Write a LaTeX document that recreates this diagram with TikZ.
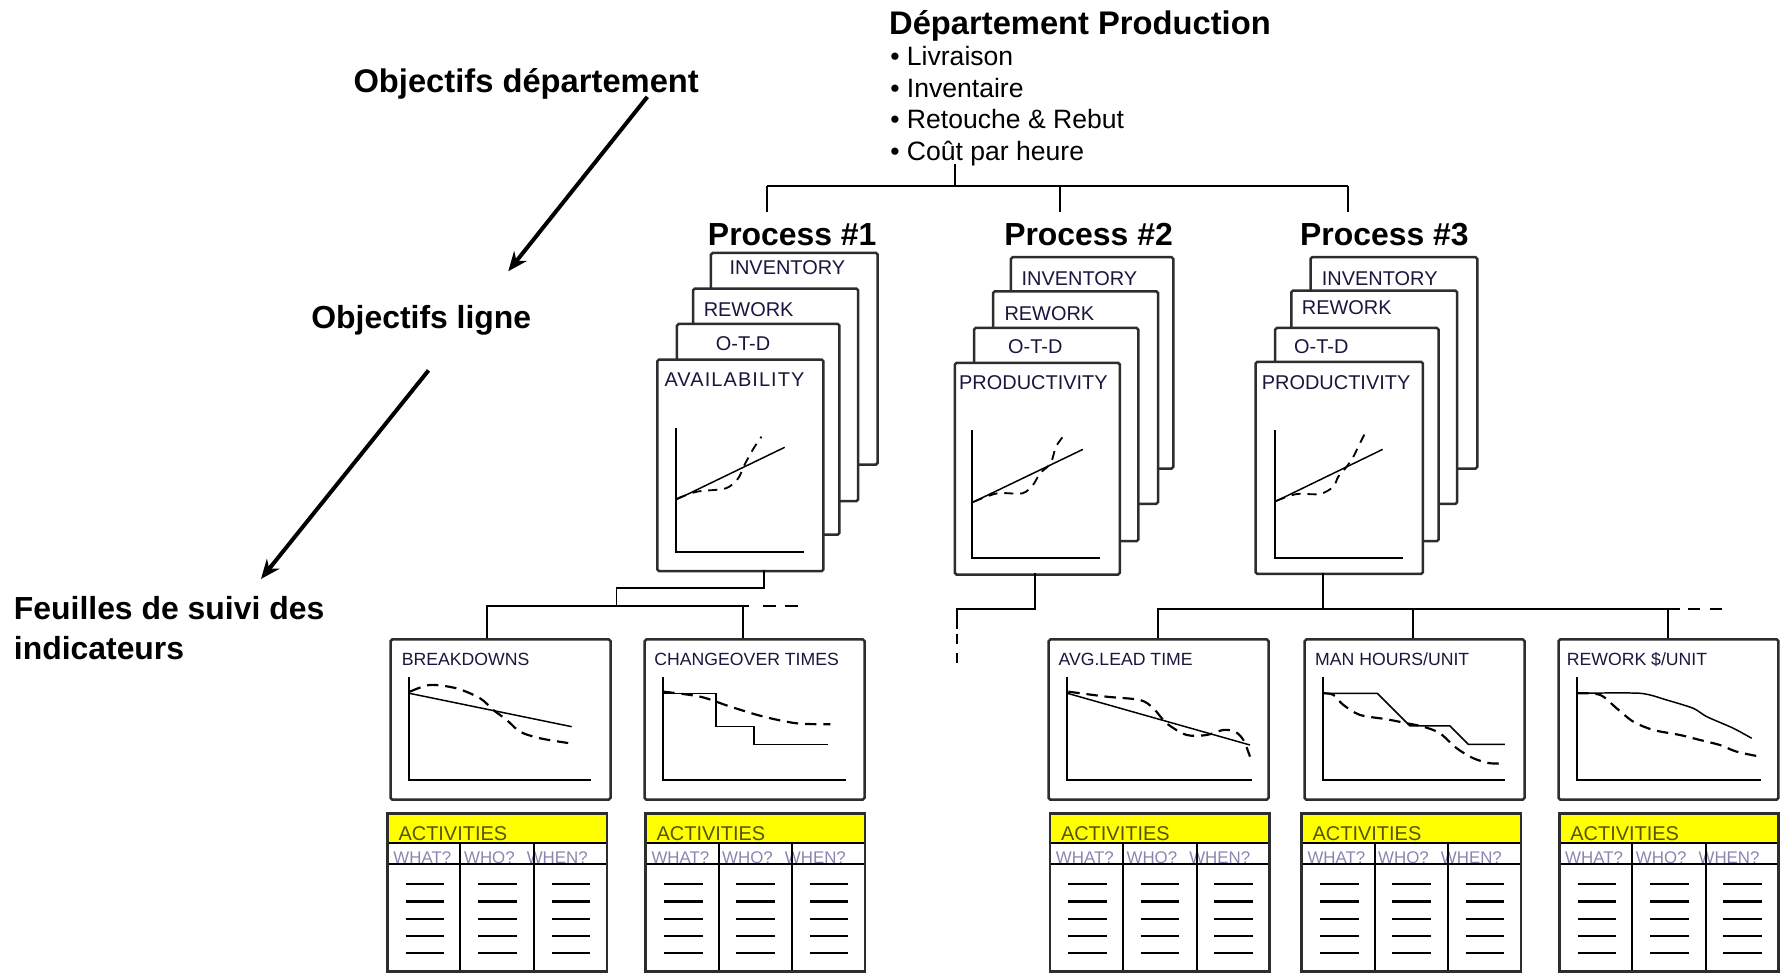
\documentclass[tikz,border=0pt]{standalone}
\usepackage{fontspec}
\setmainfont{Liberation Sans}
\usetikzlibrary{arrows.meta}
\definecolor{lbl}{RGB}{30,20,60}
\definecolor{hdr}{RGB}{140,132,175}
\definecolor{act}{RGB}{85,85,0}
\definecolor{yel}{RGB}{255,255,0}
\definecolor{edge}{RGB}{45,45,45}
\tikzset{
  head/.style={anchor=base west, inner sep=0pt, font=\fontsize{28}{28}\selectfont\bfseries},
  headw/.style={head, font=\fontsize{28.7}{28.7}\selectfont\bfseries},
  bul/.style={anchor=base west, inner sep=0pt, font=\fontsize{23.3}{23.3}\selectfont},
  card/.style={draw=edge, line width=2.2pt, fill=white, rounded corners=1.5pt, anchor=north west, inner sep=0pt},
  cardlbl/.style={anchor=west, inner sep=0pt, text=lbl, font=\fontsize{17.5}{17.5}\selectfont},
  cbox/.style={draw=edge, line width=2.2pt, fill=white, rounded corners=1.5pt, anchor=north west, inner sep=0pt, minimum width=193pt, minimum height=140.5pt},
  cboxlbl/.style={anchor=base west, inner sep=0pt, text=lbl, font=\fontsize{15.5}{15.5}\selectfont},
  axis/.style={line width=1.6pt, black},
  trend/.style={line width=1.3pt, black},
  dtrend/.style={line width=1.9pt, black, dash pattern=on 10pt off 6pt},
  ptrend/.style={line width=1.6pt, black, dash pattern=on 8pt off 6pt},
  tree/.style={line width=1.6pt, black},
  bigarrow/.style={line width=3.5pt, black, -{Stealth[length=17pt,width=14pt]}},
  tbl/.style={line width=1.8pt, black},
  tbledge/.style={draw=edge, line width=2.2pt},
  yelbox/.style={fill=yel, anchor=north west, inner sep=0pt, minimum width=192.5pt, minimum height=25.8pt},
  acttxt/.style={anchor=base west, inner sep=0pt, text=act, font=\fontsize{17.5}{17.5}\selectfont},
  hdrtxt/.style={anchor=base west, inner sep=0pt, text=hdr, font=\fontsize{14.8}{14.8}\selectfont},
  dashln/.style={line width=1.8pt, black}
}
\newcommand\PCard[8]{%
  \node[card, minimum width={#4-#2}, minimum height={#5-#3}] (#1) at (#2,#3) {};
  \node[cardlbl] (#1l) at (#7,#8) {#6};}
\newcommand\ActTable[2]{%
  \node[yelbox] (#1h) at (#2,713.6) {};
  \node[acttxt] (#1a) at (#2+9.5,737.6) {ACTIVITIES};
  \node[hdrtxt] (#1w1) at (#2+5,757.5) {WHAT?};
  \node[hdrtxt] (#1w2) at (#2+67,757.5) {WHO?};
  \node[hdrtxt] (#1w3) at (#2+122,757.5) {WHEN?};
  \draw[tbl] (#2,739.4) -- (#2+192.5,739.4);
  \draw[tbl] (#2,758.4) -- (#2+192.5,758.4);
  \draw[tbl] (#2+64,739.4) -- (#2+64,852.6);
  \draw[tbl] (#2+128.7,739.4) -- (#2+128.7,852.6);
  \draw[tbledge] (#2,713.6) rectangle (#2+192.5,852.6);
  \foreach \yy in {776,791,806,821,836}{
    \foreach \cc in {33,96.5,161}{
      \draw[dashln] (#2+\cc-17,\yy) -- (#2+\cc+17,\yy);}}}
\begin{document}
\begin{tikzpicture}[x=1pt,y=-1pt]
\useasboundingbox (0,0) rectangle (1568,854);

% ---------- headings ----------
\node[headw] (dept) at (780,30) {Département Production};
\node[bul] (b1) at (781,57.5) {• Livraison};
\node[bul] (b2) at (781,85.5) {• Inventaire};
\node[bul] (b3) at (781,113) {• Retouche \& Rebut};
\node[bul] (b4) at (781,140.5) {• Coût par heure};

\node[headw] (od) at (310,81) {Objectifs département};
\node[head] (ol) at (273,288) {Objectifs ligne};
\node[head] (fs1) at (12,544) {Feuilles de suivi des};
\node[head] (fs2) at (12,579) {indicateurs};

% ---------- big arrows ----------
\coordinate (a1s) at (568,85);
\coordinate (a1e) at (446,238);
\coordinate (a2s) at (376,325);
\coordinate (a2e) at (229,508);
\draw[bigarrow] (a1s) -- (a1e);
\draw[bigarrow] (a2s) -- (a2e);

% ---------- top tree ----------
\coordinate (t0) at (838,144);
\coordinate (t1) at (838,163);
\coordinate (tl) at (673,163);
\coordinate (tr) at (1183,163);
\draw[tree] (t0) -- (t1);
\draw[tree] (tl) -- (tr);
\draw[tree] (tl) -- (673,186);
\draw[tree] (930,163) -- (930,186);
\draw[tree] (tr) -- (1183,186);

% ---------- process titles ----------
\node[head] (p1t) at (621,215) {Process \#1};
\node[head] (p2t) at (881,215) {Process \#2};
\node[head] (p3t) at (1140.6,215) {Process \#3};

% ---------- process 1 ----------
\PCard{p1a}{622.7}{220.8}{769}{406.5}{INVENTORY}{639.9}{234.6}
\PCard{p1b}{607}{252.1}{751.8}{438.7}{REWORK}{617.3}{271.4}
\PCard{p1c}{592.9}{283.1}{735.5}{468}{O-T-D}{628}{301.2}
\PCard{p1d}{575.6}{314.4}{721.4}{500}{\addfontfeatures{LetterSpace=5.5}AVAILABILITY}{582.9}{333.4}
\draw[axis] (592.9,375.6) -- (592.9,484) -- (705.7,484);
\draw[trend] (592.9,438.7) -- (688.5,392.5);
\draw[ptrend] plot[smooth, tension=0.5] coordinates {(594.5,437.3) (611.7,431.4) (636.8,428.5) (647.7,419.7) (652.4,409.5) (657.1,400.7) (661.8,392.5) (668.1,383.2)};

% ---------- process 2 ----------
\PCard{p2a}{885.9}{224.6}{1028.4}{410}{INVENTORY}{896.2}{244.2}
\PCard{p2b}{870.3}{254.5}{1015}{441}{REWORK}{881.2}{274.9}
\PCard{p2c}{853.6}{286.6}{997.7}{473.8}{O-T-D}{884.4}{304.2}
\PCard{p2d}{836.7}{317.3}{981.5}{503}{PRODUCTIVITY}{841.4}{335.8}
\draw[axis] (853,377.3) -- (853,489.9) -- (965.2,489.9);
\draw[trend] (853,441) -- (950.2,394.3);
\draw[ptrend] plot[smooth, tension=0.5] coordinates {(854.5,440.2) (874.9,432.9) (896.9,432.9) (906.3,425.6) (912.6,415.3) (921.9,406.5) (926.6,391.9) (934.5,380.8)};

% ---------- process 3 ----------
\PCard{p3a}{1148.8}{224.6}{1295.1}{410}{INVENTORY}{1159.7}{244.2}
\PCard{p3b}{1131.9}{253.9}{1277.5}{441}{REWORK}{1142.1}{269.7}
\PCard{p3c}{1117.8}{286.6}{1261.1}{473.8}{O-T-D}{1135.4}{304.2}
\PCard{p3d}{1100.6}{316.4}{1247.4}{502.5}{PRODUCTIVITY}{1107}{335.5}
\draw[axis] (1118.7,377.3) -- (1118.7,489.9) -- (1230.7,489.9);
\draw[trend] (1118.7,440.2) -- (1213.2,394.3);
\draw[ptrend] plot[smooth, tension=0.5] coordinates {(1120.2,439.3) (1137.7,433.5) (1158.2,433.5) (1169.9,427) (1174.3,418.2) (1181.6,409.5) (1187.5,400.7) (1191.8,391.9) (1197.7,380.2)};

% ---------- lower boxes ----------
\node[cbox] (c1) at (341.6,560) {};
\node[cbox] (c2) at (564.5,560) {};
\node[cbox] (c3) at (919,560) {};
\node[cbox] (c4) at (1143.6,560) {};
\node[cbox] (c5) at (1366.4,560) {};
\node[cboxlbl] (c1l) at (352.4,583.5) {BREAKDOWNS};
\node[cboxlbl] (c2l) at (574,583.5) {CHANGEOVER TIMES};
\node[cboxlbl] (c3l) at (928.6,583.5) {AVG.LEAD TIME};
\node[cboxlbl] (c4l) at (1153.8,583.5) {MAN HOURS/UNIT};
\node[cboxlbl] (c5l) at (1374.6,583.5) {REWORK \$/UNIT};

% ---------- lower tree ----------
\draw[tree] (670,500) -- (670,516) -- (541,516) -- (541,532);
\draw[tree] (427,560) -- (427,532) -- (657,532);
\draw[tree] (652,532) -- (652,560);
\draw[tree, dash pattern=on 11.7pt off 7.3pt] (669.6,532) -- (700.5,532);
\draw[tree] (908,503) -- (908,534.7) -- (839.4,534.7) -- (839.4,552);
\draw[tree, dash pattern=on 9pt off 8pt] (839.4,556) -- (839.4,582.5);
\draw[tree] (1161.1,502.5) -- (1161.1,534.7);
\draw[tree] (1016.3,560) -- (1016.3,534.7) -- (1474,534.7);
\draw[tree] (1239.5,534.7) -- (1239.5,560);
\draw[tree] (1463.8,534.7) -- (1463.8,560);
\draw[tree, dash pattern=on 10.5pt off 8.5pt] (1481.4,534.7) -- (1512.1,534.7);

% chart 1
\draw[axis] (359,593.7) -- (359,684.4) -- (518.3,684.4);
\draw[trend] (359,608.3) -- (501.6,637.6);
\draw[dtrend] plot[smooth, tension=0.5] coordinates {(359.7,606.9) (377.3,601) (400.7,604) (421.2,612.7) (432.9,623) (444.6,631.7) (456.3,642) (473.8,647.8) (500.1,652.2)};
% chart 2
\draw[axis] (582,593.7) -- (582,684.4) -- (742.3,684.4);
\draw[trend] (582,608.3) -- (628.2,608.3) -- (628.2,637.6) -- (661.6,637.6) -- (661.6,653.1) -- (726.8,653.1);
\draw[dtrend] plot[smooth, tension=0.5] coordinates {(582,606.9) (614.4,611.3) (640.7,620) (670,628.8) (699.3,634.7) (728.5,635.5)};
% chart 3
\draw[axis] (936.5,593.7) -- (936.5,684.4) -- (1098.3,684.4);
\draw[trend] (936.5,608.3) -- (1096.8,653.7);
\draw[dtrend] plot[smooth, tension=0.5] coordinates {(937.4,606.9) (971.1,611.3) (1000.3,614.2) (1012,621.5) (1023.7,634.7) (1041.3,644.9) (1058.8,644.9) (1073.4,640.5) (1083.7,642) (1091,649.3) (1096.8,663.9)};
% chart 4
\draw[axis] (1161.1,593.7) -- (1161.1,684.4) -- (1320.5,684.4);
\draw[trend] (1161.1,608.3) -- (1208.5,608.3) -- (1237.2,637) -- (1272.3,637) -- (1288.4,653.1) -- (1320.5,653.1);
\draw[dtrend] plot[smooth, tension=0.5] coordinates {(1161.7,608.3) (1169.9,609.7) (1178.7,618.5) (1193.3,627.3) (1216.7,631.1) (1234.2,634.6) (1248.8,637.6) (1263.4,643.4) (1278.1,656.5) (1292.7,665.3) (1307.3,669.7) (1319,669.7)};
% chart 5
\draw[axis] (1383.4,593.7) -- (1383.4,684.4) -- (1544.9,684.4);
\draw[trend] plot[smooth, tension=0.4] coordinates {(1383.4,608.3) (1439,608.3) (1462.4,614.2) (1485.8,621.5) (1497.5,628.8) (1520.9,639) (1537,647.8)};
\draw[dtrend] plot[smooth, tension=0.5] coordinates {(1384,608.3) (1403.9,609.7) (1418.5,621.5) (1433.1,633.2) (1450.6,640.5) (1474,644.9) (1491.6,649.3) (1509.1,653.7) (1523.7,659.5) (1544.2,663.9)};

% ---------- activity tables ----------
\ActTable{t1}{340}
\ActTable{t2}{566.5}
\ActTable{t3}{921.3}
\ActTable{t4}{1142.1}
\ActTable{t5}{1368.2}
\end{tikzpicture}
\end{document}
